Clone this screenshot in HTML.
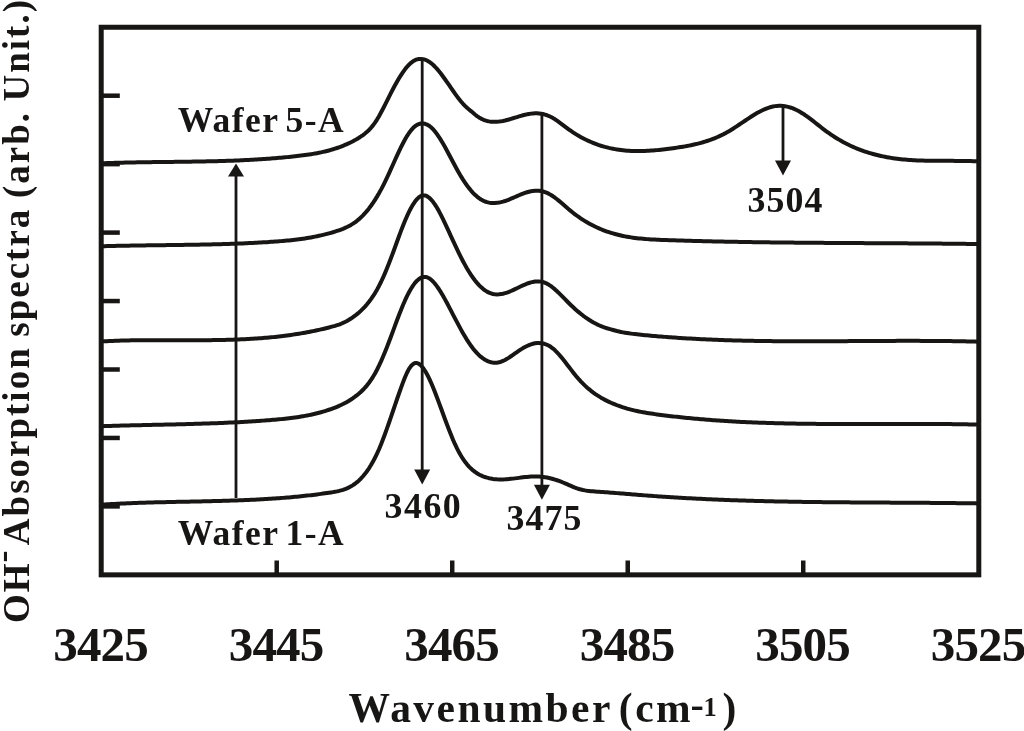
<!DOCTYPE html>
<html lang="en"><head><meta charset="utf-8"><title>OH absorption spectra</title>
<style>
html,body{margin:0;padding:0;background:#fff;}
body{width:1024px;height:731px;overflow:hidden;}
svg{display:block;}
text{font-family:"Liberation Serif",serif;font-weight:bold;fill:#181515;}
.c{fill:none;stroke:#181515;stroke-width:4.0;stroke-linejoin:round;stroke-linecap:butt;}
.t{stroke:#181515;stroke-width:4.5;fill:none;}
.l{stroke:#181515;stroke-width:2.8;fill:none;}
.h{fill:#181515;}
</style></head><body>
<svg width="1024" height="731" viewBox="0 0 1024 731">
<rect x="0" y="0" width="1024" height="731" fill="#ffffff"/>
<line class="t" x1="101" y1="95.70" x2="119.8" y2="95.70"/>
<line class="t" x1="101" y1="164.15" x2="119.8" y2="164.15"/>
<line class="t" x1="101" y1="232.60" x2="119.8" y2="232.60"/>
<line class="t" x1="101" y1="301.05" x2="119.8" y2="301.05"/>
<line class="t" x1="101" y1="369.50" x2="119.8" y2="369.50"/>
<line class="t" x1="101" y1="437.95" x2="119.8" y2="437.95"/>
<line class="t" x1="101" y1="506.40" x2="119.8" y2="506.40"/>
<line class="t" x1="276.71" y1="575" x2="276.71" y2="560.5"/>
<line class="t" x1="452.22" y1="575" x2="452.22" y2="560.5"/>
<line class="t" x1="627.73" y1="575" x2="627.73" y2="560.5"/>
<line class="t" x1="803.24" y1="575" x2="803.24" y2="560.5"/>
<path class="c" d="M101.0,504.74 L103.0,504.61 L105.0,504.48 L107.0,504.36 L109.0,504.24 L111.0,504.12 L113.0,504.01 L115.0,503.90 L117.0,503.79 L119.0,503.69 L121.0,503.60 L123.0,503.50 L125.0,503.41 L127.0,503.32 L129.0,503.24 L131.0,503.16 L133.0,503.08 L135.0,503.00 L137.0,502.93 L139.0,502.86 L141.0,502.79 L143.0,502.72 L145.0,502.66 L147.0,502.60 L149.0,502.54 L151.0,502.48 L153.0,502.43 L155.0,502.37 L157.0,502.32 L159.0,502.27 L161.0,502.22 L163.0,502.17 L165.0,502.13 L167.0,502.08 L169.0,502.04 L171.0,501.99 L173.0,501.95 L175.0,501.91 L177.0,501.87 L179.0,501.83 L181.0,501.79 L183.0,501.75 L185.0,501.71 L187.0,501.67 L189.0,501.63 L191.0,501.59 L193.0,501.55 L195.0,501.51 L197.0,501.47 L199.0,501.43 L201.0,501.39 L203.0,501.35 L205.0,501.30 L207.0,501.26 L209.0,501.21 L211.0,501.17 L213.0,501.12 L215.0,501.07 L217.0,501.02 L219.0,500.97 L221.0,500.92 L223.0,500.86 L225.0,500.80 L227.0,500.75 L229.0,500.68 L231.0,500.62 L233.0,500.56 L235.0,500.49 L237.0,500.42 L239.0,500.35 L241.0,500.27 L243.0,500.19 L245.0,500.11 L247.0,500.03 L249.0,499.94 L251.0,499.85 L253.0,499.75 L255.0,499.66 L257.0,499.56 L259.0,499.45 L261.0,499.35 L263.0,499.23 L265.0,499.12 L267.0,499.00 L269.0,498.87 L271.0,498.75 L273.0,498.61 L275.0,498.48 L277.0,498.34 L279.0,498.19 L281.0,498.04 L283.0,497.88 L285.0,497.72 L287.0,497.56 L289.0,497.39 L291.0,497.21 L293.0,497.03 L295.0,496.84 L297.0,496.65 L299.0,496.45 L301.0,496.25 L303.0,496.04 L305.0,495.82 L307.0,495.60 L309.0,495.37 L311.0,495.14 L313.0,494.90 L315.0,494.65 L317.0,494.40 L319.0,494.14 L321.0,493.87 L323.0,493.60 L325.0,493.32 L327.0,493.03 L329.0,492.73 L331.0,492.43 L333.0,492.11 L335.0,491.76 L337.0,491.38 L339.0,490.93 L341.0,490.42 L343.0,489.83 L345.0,489.13 L347.0,488.33 L349.0,487.40 L351.0,486.34 L353.0,485.12 L355.0,483.74 L357.0,482.17 L359.0,480.42 L361.0,478.46 L363.0,476.27 L365.0,473.85 L367.0,471.19 L369.0,468.26 L371.0,465.05 L373.0,461.56 L375.0,457.76 L377.0,453.65 L379.0,449.20 L381.0,444.42 L383.0,439.33 L385.0,433.98 L387.0,428.43 L389.0,422.72 L391.0,416.89 L393.0,411.01 L395.0,405.12 L397.0,399.26 L399.0,393.48 L401.0,387.84 L403.0,382.39 L405.0,377.27 L407.0,372.70 L409.0,368.92 L411.0,366.04 L413.0,364.09 L415.0,363.08 L417.0,363.03 L419.0,363.87 L421.0,365.51 L423.0,367.83 L425.0,370.76 L427.0,374.24 L429.0,378.19 L431.0,382.55 L433.0,387.27 L435.0,392.26 L437.0,397.47 L439.0,402.83 L441.0,408.28 L443.0,413.75 L445.0,419.19 L447.0,424.55 L449.0,429.78 L451.0,434.84 L453.0,439.66 L455.0,444.21 L457.0,448.44 L459.0,452.30 L461.0,455.80 L463.0,458.96 L465.0,461.80 L467.0,464.35 L469.0,466.61 L471.0,468.62 L473.0,470.38 L475.0,471.92 L477.0,473.27 L479.0,474.43 L481.0,475.43 L483.0,476.29 L485.0,477.02 L487.0,477.65 L489.0,478.17 L491.0,478.59 L493.0,478.92 L495.0,479.16 L497.0,479.33 L499.0,479.43 L501.0,479.46 L503.0,479.43 L505.0,479.35 L507.0,479.22 L509.0,479.05 L511.0,478.85 L513.0,478.62 L515.0,478.38 L517.0,478.12 L519.0,477.86 L521.0,477.60 L523.0,477.34 L525.0,477.11 L527.0,476.90 L529.0,476.72 L531.0,476.58 L533.0,476.48 L535.0,476.44 L537.0,476.45 L539.0,476.54 L541.0,476.69 L543.0,476.92 L545.0,477.21 L547.0,477.56 L549.0,477.98 L551.0,478.46 L553.0,479.00 L555.0,479.59 L557.0,480.24 L559.0,480.94 L561.0,481.69 L563.0,482.49 L565.0,483.33 L567.0,484.20 L569.0,485.08 L571.0,485.95 L573.0,486.79 L575.0,487.59 L577.0,488.32 L579.0,488.98 L581.0,489.54 L583.0,490.00 L585.0,490.38 L587.0,490.70 L589.0,490.95 L591.0,491.16 L593.0,491.34 L595.0,491.49 L597.0,491.63 L599.0,491.77 L601.0,491.91 L603.0,492.06 L605.0,492.21 L607.0,492.36 L609.0,492.51 L611.0,492.66 L613.0,492.82 L615.0,492.98 L617.0,493.13 L619.0,493.29 L621.0,493.45 L623.0,493.61 L625.0,493.78 L627.0,493.94 L629.0,494.10 L631.0,494.26 L633.0,494.42 L635.0,494.58 L637.0,494.74 L639.0,494.90 L641.0,495.06 L643.0,495.22 L645.0,495.37 L647.0,495.52 L649.0,495.68 L651.0,495.83 L653.0,495.97 L655.0,496.12 L657.0,496.26 L659.0,496.40 L661.0,496.54 L663.0,496.68 L665.0,496.81 L667.0,496.94 L669.0,497.07 L671.0,497.20 L673.0,497.33 L675.0,497.45 L677.0,497.57 L679.0,497.69 L681.0,497.81 L683.0,497.92 L685.0,498.04 L687.0,498.15 L689.0,498.26 L691.0,498.37 L693.0,498.47 L695.0,498.58 L697.0,498.68 L699.0,498.78 L701.0,498.87 L703.0,498.97 L705.0,499.07 L707.0,499.16 L709.0,499.25 L711.0,499.34 L713.0,499.43 L715.0,499.51 L717.0,499.59 L719.0,499.68 L721.0,499.76 L723.0,499.84 L725.0,499.91 L727.0,499.99 L729.0,500.06 L731.0,500.14 L733.0,500.21 L735.0,500.28 L737.0,500.35 L739.0,500.41 L741.0,500.48 L743.0,500.54 L745.0,500.60 L747.0,500.66 L749.0,500.72 L751.0,500.78 L753.0,500.84 L755.0,500.89 L757.0,500.95 L759.0,501.00 L761.0,501.05 L763.0,501.10 L765.0,501.15 L767.0,501.20 L769.0,501.25 L771.0,501.29 L773.0,501.34 L775.0,501.38 L777.0,501.42 L779.0,501.47 L781.0,501.51 L783.0,501.54 L785.0,501.58 L787.0,501.62 L789.0,501.66 L791.0,501.69 L793.0,501.72 L795.0,501.76 L797.0,501.79 L799.0,501.82 L801.0,501.85 L803.0,501.88 L805.0,501.91 L807.0,501.94 L809.0,501.97 L811.0,501.99 L813.0,502.02 L815.0,502.04 L817.0,502.07 L819.0,502.09 L821.0,502.11 L823.0,502.14 L825.0,502.16 L827.0,502.18 L829.0,502.20 L831.0,502.22 L833.0,502.24 L835.0,502.26 L837.0,502.27 L839.0,502.29 L841.0,502.31 L843.0,502.32 L845.0,502.34 L847.0,502.36 L849.0,502.37 L851.0,502.39 L853.0,502.40 L855.0,502.42 L857.0,502.43 L859.0,502.44 L861.0,502.46 L863.0,502.47 L865.0,502.48 L867.0,502.49 L869.0,502.51 L871.0,502.52 L873.0,502.53 L875.0,502.54 L877.0,502.55 L879.0,502.57 L881.0,502.58 L883.0,502.59 L885.0,502.60 L887.0,502.61 L889.0,502.62 L891.0,502.63 L893.0,502.64 L895.0,502.66 L897.0,502.67 L899.0,502.68 L901.0,502.69 L903.0,502.70 L905.0,502.71 L907.0,502.73 L909.0,502.74 L911.0,502.75 L913.0,502.76 L915.0,502.77 L917.0,502.79 L919.0,502.80 L921.0,502.81 L923.0,502.83 L925.0,502.84 L927.0,502.86 L929.0,502.87 L931.0,502.89 L933.0,502.90 L935.0,502.92 L937.0,502.93 L939.0,502.95 L941.0,502.97 L943.0,502.99 L945.0,503.01 L947.0,503.02 L949.0,503.04 L951.0,503.06 L953.0,503.09 L955.0,503.11 L957.0,503.13 L959.0,503.15 L961.0,503.17 L963.0,503.20 L965.0,503.22 L967.0,503.25 L969.0,503.27 L971.0,503.30 L973.0,503.33 L975.0,503.36 L977.0,503.39"/>
<path class="c" d="M101.0,426.24 L103.0,426.17 L105.0,426.10 L107.0,426.04 L109.0,425.97 L111.0,425.91 L113.0,425.85 L115.0,425.79 L117.0,425.73 L119.0,425.68 L121.0,425.62 L123.0,425.57 L125.0,425.52 L127.0,425.47 L129.0,425.42 L131.0,425.37 L133.0,425.32 L135.0,425.27 L137.0,425.22 L139.0,425.18 L141.0,425.13 L143.0,425.09 L145.0,425.04 L147.0,425.00 L149.0,424.95 L151.0,424.91 L153.0,424.87 L155.0,424.82 L157.0,424.78 L159.0,424.74 L161.0,424.69 L163.0,424.65 L165.0,424.60 L167.0,424.56 L169.0,424.51 L171.0,424.47 L173.0,424.42 L175.0,424.38 L177.0,424.33 L179.0,424.28 L181.0,424.23 L183.0,424.18 L185.0,424.13 L187.0,424.08 L189.0,424.03 L191.0,423.97 L193.0,423.92 L195.0,423.86 L197.0,423.80 L199.0,423.74 L201.0,423.68 L203.0,423.62 L205.0,423.55 L207.0,423.49 L209.0,423.42 L211.0,423.35 L213.0,423.28 L215.0,423.20 L217.0,423.13 L219.0,423.05 L221.0,422.97 L223.0,422.89 L225.0,422.80 L227.0,422.71 L229.0,422.62 L231.0,422.53 L233.0,422.43 L235.0,422.33 L237.0,422.23 L239.0,422.13 L241.0,422.02 L243.0,421.91 L245.0,421.80 L247.0,421.68 L249.0,421.56 L251.0,421.44 L253.0,421.31 L255.0,421.18 L257.0,421.05 L259.0,420.91 L261.0,420.77 L263.0,420.62 L265.0,420.47 L267.0,420.32 L269.0,420.17 L271.0,420.00 L273.0,419.84 L275.0,419.67 L277.0,419.49 L279.0,419.31 L281.0,419.12 L283.0,418.92 L285.0,418.71 L287.0,418.49 L289.0,418.26 L291.0,418.02 L293.0,417.76 L295.0,417.49 L297.0,417.20 L299.0,416.90 L301.0,416.58 L303.0,416.24 L305.0,415.88 L307.0,415.50 L309.0,415.11 L311.0,414.69 L313.0,414.24 L315.0,413.78 L317.0,413.29 L319.0,412.77 L321.0,412.23 L323.0,411.66 L325.0,411.06 L327.0,410.43 L329.0,409.77 L331.0,409.08 L333.0,408.36 L335.0,407.60 L337.0,406.79 L339.0,405.94 L341.0,405.03 L343.0,404.06 L345.0,403.03 L347.0,401.92 L349.0,400.74 L351.0,399.49 L353.0,398.15 L355.0,396.71 L357.0,395.19 L359.0,393.54 L361.0,391.75 L363.0,389.81 L365.0,387.67 L367.0,385.33 L369.0,382.76 L371.0,379.94 L373.0,376.85 L375.0,373.46 L377.0,369.75 L379.0,365.71 L381.0,361.39 L383.0,356.80 L385.0,351.99 L387.0,346.97 L389.0,341.80 L391.0,336.49 L393.0,331.10 L395.0,325.68 L397.0,320.31 L399.0,315.03 L401.0,309.92 L403.0,305.03 L405.0,300.44 L407.0,296.17 L409.0,292.26 L411.0,288.73 L413.0,285.61 L415.0,282.92 L417.0,280.69 L419.0,278.95 L421.0,277.71 L423.0,277.01 L425.0,276.88 L427.0,277.30 L429.0,278.24 L431.0,279.66 L433.0,281.52 L435.0,283.76 L437.0,286.36 L439.0,289.26 L441.0,292.43 L443.0,295.81 L445.0,299.37 L447.0,303.07 L449.0,306.86 L451.0,310.70 L453.0,314.55 L455.0,318.39 L457.0,322.19 L459.0,325.93 L461.0,329.59 L463.0,333.15 L465.0,336.57 L467.0,339.83 L469.0,342.92 L471.0,345.81 L473.0,348.47 L475.0,350.92 L477.0,353.14 L479.0,355.14 L481.0,356.90 L483.0,358.44 L485.0,359.75 L487.0,360.83 L489.0,361.67 L491.0,362.28 L493.0,362.65 L495.0,362.78 L497.0,362.67 L499.0,362.32 L501.0,361.73 L503.0,360.93 L505.0,359.96 L507.0,358.84 L509.0,357.60 L511.0,356.27 L513.0,354.89 L515.0,353.47 L517.0,352.06 L519.0,350.67 L521.0,349.34 L523.0,348.10 L525.0,346.97 L527.0,345.96 L529.0,345.08 L531.0,344.34 L533.0,343.75 L535.0,343.33 L537.0,343.08 L539.0,343.01 L541.0,343.13 L543.0,343.47 L545.0,344.01 L547.0,344.79 L549.0,345.80 L551.0,347.06 L553.0,348.57 L555.0,350.34 L557.0,352.32 L559.0,354.50 L561.0,356.82 L563.0,359.27 L565.0,361.81 L567.0,364.41 L569.0,367.03 L571.0,369.65 L573.0,372.23 L575.0,374.75 L577.0,377.16 L579.0,379.45 L581.0,381.62 L583.0,383.67 L585.0,385.61 L587.0,387.44 L589.0,389.17 L591.0,390.80 L593.0,392.34 L595.0,393.78 L597.0,395.15 L599.0,396.43 L601.0,397.65 L603.0,398.79 L605.0,399.87 L607.0,400.89 L609.0,401.85 L611.0,402.77 L613.0,403.63 L615.0,404.46 L617.0,405.24 L619.0,405.98 L621.0,406.68 L623.0,407.34 L625.0,407.96 L627.0,408.55 L629.0,409.11 L631.0,409.63 L633.0,410.13 L635.0,410.60 L637.0,411.04 L639.0,411.46 L641.0,411.85 L643.0,412.23 L645.0,412.58 L647.0,412.92 L649.0,413.24 L651.0,413.55 L653.0,413.84 L655.0,414.13 L657.0,414.40 L659.0,414.67 L661.0,414.93 L663.0,415.19 L665.0,415.44 L667.0,415.69 L669.0,415.93 L671.0,416.16 L673.0,416.40 L675.0,416.63 L677.0,416.85 L679.0,417.07 L681.0,417.28 L683.0,417.49 L685.0,417.70 L687.0,417.90 L689.0,418.10 L691.0,418.29 L693.0,418.48 L695.0,418.67 L697.0,418.85 L699.0,419.02 L701.0,419.20 L703.0,419.36 L705.0,419.53 L707.0,419.69 L709.0,419.85 L711.0,420.00 L713.0,420.15 L715.0,420.30 L717.0,420.44 L719.0,420.58 L721.0,420.71 L723.0,420.84 L725.0,420.97 L727.0,421.10 L729.0,421.22 L731.0,421.33 L733.0,421.45 L735.0,421.56 L737.0,421.67 L739.0,421.77 L741.0,421.88 L743.0,421.97 L745.0,422.07 L747.0,422.16 L749.0,422.25 L751.0,422.34 L753.0,422.42 L755.0,422.50 L757.0,422.58 L759.0,422.66 L761.0,422.73 L763.0,422.80 L765.0,422.87 L767.0,422.94 L769.0,423.00 L771.0,423.06 L773.0,423.12 L775.0,423.17 L777.0,423.23 L779.0,423.28 L781.0,423.33 L783.0,423.37 L785.0,423.42 L787.0,423.46 L789.0,423.50 L791.0,423.54 L793.0,423.58 L795.0,423.61 L797.0,423.64 L799.0,423.67 L801.0,423.70 L803.0,423.73 L805.0,423.76 L807.0,423.78 L809.0,423.80 L811.0,423.82 L813.0,423.84 L815.0,423.86 L817.0,423.88 L819.0,423.89 L821.0,423.91 L823.0,423.92 L825.0,423.93 L827.0,423.94 L829.0,423.95 L831.0,423.96 L833.0,423.97 L835.0,423.97 L837.0,423.98 L839.0,423.98 L841.0,423.98 L843.0,423.99 L845.0,423.99 L847.0,423.99 L849.0,423.99 L851.0,423.99 L853.0,423.99 L855.0,423.98 L857.0,423.98 L859.0,423.98 L861.0,423.98 L863.0,423.97 L865.0,423.97 L867.0,423.96 L869.0,423.96 L871.0,423.95 L873.0,423.95 L875.0,423.94 L877.0,423.94 L879.0,423.93 L881.0,423.93 L883.0,423.92 L885.0,423.92 L887.0,423.91 L889.0,423.91 L891.0,423.90 L893.0,423.90 L895.0,423.90 L897.0,423.89 L899.0,423.89 L901.0,423.89 L903.0,423.89 L905.0,423.88 L907.0,423.88 L909.0,423.88 L911.0,423.88 L913.0,423.89 L915.0,423.89 L917.0,423.89 L919.0,423.89 L921.0,423.90 L923.0,423.90 L925.0,423.91 L927.0,423.92 L929.0,423.93 L931.0,423.94 L933.0,423.95 L935.0,423.96 L937.0,423.97 L939.0,423.99 L941.0,424.00 L943.0,424.02 L945.0,424.04 L947.0,424.06 L949.0,424.08 L951.0,424.11 L953.0,424.13 L955.0,424.16 L957.0,424.19 L959.0,424.22 L961.0,424.25 L963.0,424.28 L965.0,424.32 L967.0,424.36 L969.0,424.40 L971.0,424.44 L973.0,424.48 L975.0,424.53 L977.0,424.58"/>
<path class="c" d="M101.0,341.48 L103.0,341.37 L105.0,341.26 L107.0,341.16 L109.0,341.06 L111.0,340.97 L113.0,340.89 L115.0,340.81 L117.0,340.74 L119.0,340.67 L121.0,340.60 L123.0,340.55 L125.0,340.49 L127.0,340.44 L129.0,340.40 L131.0,340.36 L133.0,340.32 L135.0,340.29 L137.0,340.26 L139.0,340.24 L141.0,340.21 L143.0,340.19 L145.0,340.18 L147.0,340.16 L149.0,340.15 L151.0,340.15 L153.0,340.14 L155.0,340.13 L157.0,340.13 L159.0,340.13 L161.0,340.13 L163.0,340.14 L165.0,340.14 L167.0,340.14 L169.0,340.15 L171.0,340.15 L173.0,340.16 L175.0,340.17 L177.0,340.17 L179.0,340.18 L181.0,340.19 L183.0,340.19 L185.0,340.20 L187.0,340.20 L189.0,340.20 L191.0,340.21 L193.0,340.21 L195.0,340.21 L197.0,340.20 L199.0,340.20 L201.0,340.19 L203.0,340.19 L205.0,340.18 L207.0,340.16 L209.0,340.15 L211.0,340.13 L213.0,340.10 L215.0,340.08 L217.0,340.05 L219.0,340.02 L221.0,339.98 L223.0,339.94 L225.0,339.90 L227.0,339.85 L229.0,339.80 L231.0,339.74 L233.0,339.67 L235.0,339.61 L237.0,339.53 L239.0,339.45 L241.0,339.37 L243.0,339.28 L245.0,339.18 L247.0,339.08 L249.0,338.97 L251.0,338.86 L253.0,338.74 L255.0,338.61 L257.0,338.48 L259.0,338.33 L261.0,338.18 L263.0,338.03 L265.0,337.86 L267.0,337.69 L269.0,337.51 L271.0,337.32 L273.0,337.12 L275.0,336.91 L277.0,336.70 L279.0,336.48 L281.0,336.24 L283.0,336.00 L285.0,335.75 L287.0,335.49 L289.0,335.22 L291.0,334.94 L293.0,334.64 L295.0,334.34 L297.0,334.03 L299.0,333.71 L301.0,333.37 L303.0,333.03 L305.0,332.67 L307.0,332.30 L309.0,331.92 L311.0,331.53 L313.0,331.13 L315.0,330.71 L317.0,330.29 L319.0,329.85 L321.0,329.39 L323.0,328.93 L325.0,328.45 L327.0,327.96 L329.0,327.45 L331.0,326.93 L333.0,326.39 L335.0,325.82 L337.0,325.20 L339.0,324.52 L341.0,323.77 L343.0,322.93 L345.0,322.00 L347.0,320.95 L349.0,319.80 L351.0,318.54 L353.0,317.18 L355.0,315.71 L357.0,314.14 L359.0,312.45 L361.0,310.63 L363.0,308.67 L365.0,306.56 L367.0,304.27 L369.0,301.80 L371.0,299.12 L373.0,296.21 L375.0,293.06 L377.0,289.65 L379.0,285.97 L381.0,281.99 L383.0,277.71 L385.0,273.16 L387.0,268.35 L389.0,263.32 L391.0,258.08 L393.0,252.69 L395.0,247.21 L397.0,241.71 L399.0,236.25 L401.0,230.90 L403.0,225.72 L405.0,220.80 L407.0,216.17 L409.0,211.89 L411.0,208.00 L413.0,204.55 L415.0,201.58 L417.0,199.13 L419.0,197.26 L421.0,196.00 L423.0,195.40 L425.0,195.49 L427.0,196.23 L429.0,197.57 L431.0,199.45 L433.0,201.81 L435.0,204.61 L437.0,207.80 L439.0,211.31 L441.0,215.10 L443.0,219.11 L445.0,223.29 L447.0,227.58 L449.0,231.94 L451.0,236.31 L453.0,240.66 L455.0,244.95 L457.0,249.18 L459.0,253.31 L461.0,257.33 L463.0,261.21 L465.0,264.92 L467.0,268.45 L469.0,271.77 L471.0,274.88 L473.0,277.76 L475.0,280.43 L477.0,282.87 L479.0,285.08 L481.0,287.06 L483.0,288.81 L485.0,290.33 L487.0,291.60 L489.0,292.63 L491.0,293.42 L493.0,293.97 L495.0,294.29 L497.0,294.41 L499.0,294.34 L501.0,294.10 L503.0,293.71 L505.0,293.18 L507.0,292.54 L509.0,291.80 L511.0,290.98 L513.0,290.09 L515.0,289.16 L517.0,288.21 L519.0,287.25 L521.0,286.30 L523.0,285.38 L525.0,284.52 L527.0,283.72 L529.0,283.00 L531.0,282.40 L533.0,281.92 L535.0,281.58 L537.0,281.41 L539.0,281.42 L541.0,281.63 L543.0,282.06 L545.0,282.73 L547.0,283.65 L549.0,284.80 L551.0,286.16 L553.0,287.71 L555.0,289.40 L557.0,291.22 L559.0,293.14 L561.0,295.13 L563.0,297.16 L565.0,299.21 L567.0,301.25 L569.0,303.26 L571.0,305.20 L573.0,307.08 L575.0,308.90 L577.0,310.66 L579.0,312.35 L581.0,313.97 L583.0,315.53 L585.0,317.01 L587.0,318.42 L589.0,319.76 L591.0,321.02 L593.0,322.20 L595.0,323.30 L597.0,324.33 L599.0,325.27 L601.0,326.13 L603.0,326.90 L605.0,327.60 L607.0,328.25 L609.0,328.85 L611.0,329.44 L613.0,330.00 L615.0,330.54 L617.0,331.05 L619.0,331.51 L621.0,331.94 L623.0,332.34 L625.0,332.70 L627.0,333.03 L629.0,333.33 L631.0,333.61 L633.0,333.87 L635.0,334.11 L637.0,334.34 L639.0,334.55 L641.0,334.75 L643.0,334.95 L645.0,335.15 L647.0,335.34 L649.0,335.52 L651.0,335.71 L653.0,335.89 L655.0,336.06 L657.0,336.23 L659.0,336.40 L661.0,336.57 L663.0,336.73 L665.0,336.88 L667.0,337.04 L669.0,337.19 L671.0,337.33 L673.0,337.48 L675.0,337.62 L677.0,337.75 L679.0,337.89 L681.0,338.02 L683.0,338.15 L685.0,338.27 L687.0,338.39 L689.0,338.51 L691.0,338.62 L693.0,338.73 L695.0,338.84 L697.0,338.95 L699.0,339.05 L701.0,339.15 L703.0,339.25 L705.0,339.34 L707.0,339.43 L709.0,339.52 L711.0,339.61 L713.0,339.69 L715.0,339.77 L717.0,339.85 L719.0,339.93 L721.0,340.00 L723.0,340.07 L725.0,340.14 L727.0,340.20 L729.0,340.27 L731.0,340.33 L733.0,340.39 L735.0,340.44 L737.0,340.50 L739.0,340.55 L741.0,340.60 L743.0,340.65 L745.0,340.69 L747.0,340.74 L749.0,340.78 L751.0,340.82 L753.0,340.86 L755.0,340.89 L757.0,340.93 L759.0,340.96 L761.0,340.99 L763.0,341.02 L765.0,341.05 L767.0,341.07 L769.0,341.10 L771.0,341.12 L773.0,341.14 L775.0,341.16 L777.0,341.18 L779.0,341.19 L781.0,341.21 L783.0,341.22 L785.0,341.23 L787.0,341.24 L789.0,341.25 L791.0,341.26 L793.0,341.27 L795.0,341.27 L797.0,341.28 L799.0,341.28 L801.0,341.28 L803.0,341.28 L805.0,341.28 L807.0,341.28 L809.0,341.28 L811.0,341.28 L813.0,341.28 L815.0,341.27 L817.0,341.27 L819.0,341.26 L821.0,341.26 L823.0,341.25 L825.0,341.24 L827.0,341.23 L829.0,341.23 L831.0,341.22 L833.0,341.21 L835.0,341.20 L837.0,341.19 L839.0,341.18 L841.0,341.17 L843.0,341.15 L845.0,341.14 L847.0,341.13 L849.0,341.12 L851.0,341.11 L853.0,341.10 L855.0,341.08 L857.0,341.07 L859.0,341.06 L861.0,341.05 L863.0,341.03 L865.0,341.02 L867.0,341.01 L869.0,341.00 L871.0,340.99 L873.0,340.98 L875.0,340.96 L877.0,340.95 L879.0,340.94 L881.0,340.93 L883.0,340.92 L885.0,340.91 L887.0,340.91 L889.0,340.90 L891.0,340.89 L893.0,340.88 L895.0,340.88 L897.0,340.87 L899.0,340.87 L901.0,340.86 L903.0,340.86 L905.0,340.86 L907.0,340.86 L909.0,340.86 L911.0,340.86 L913.0,340.86 L915.0,340.86 L917.0,340.87 L919.0,340.87 L921.0,340.88 L923.0,340.88 L925.0,340.89 L927.0,340.90 L929.0,340.91 L931.0,340.92 L933.0,340.94 L935.0,340.95 L937.0,340.97 L939.0,340.98 L941.0,341.00 L943.0,341.02 L945.0,341.05 L947.0,341.07 L949.0,341.10 L951.0,341.12 L953.0,341.15 L955.0,341.18 L957.0,341.22 L959.0,341.25 L961.0,341.29 L963.0,341.32 L965.0,341.36 L967.0,341.41 L969.0,341.45 L971.0,341.49 L973.0,341.54 L975.0,341.59 L977.0,341.65"/>
<path class="c" d="M101.0,246.29 L103.0,246.23 L105.0,246.17 L107.0,246.11 L109.0,246.06 L111.0,246.01 L113.0,245.96 L115.0,245.91 L117.0,245.87 L119.0,245.82 L121.0,245.78 L123.0,245.74 L125.0,245.70 L127.0,245.67 L129.0,245.63 L131.0,245.60 L133.0,245.56 L135.0,245.53 L137.0,245.50 L139.0,245.47 L141.0,245.44 L143.0,245.41 L145.0,245.38 L147.0,245.36 L149.0,245.33 L151.0,245.30 L153.0,245.28 L155.0,245.25 L157.0,245.23 L159.0,245.20 L161.0,245.18 L163.0,245.16 L165.0,245.13 L167.0,245.11 L169.0,245.08 L171.0,245.06 L173.0,245.03 L175.0,245.01 L177.0,244.98 L179.0,244.96 L181.0,244.93 L183.0,244.90 L185.0,244.87 L187.0,244.84 L189.0,244.81 L191.0,244.78 L193.0,244.75 L195.0,244.72 L197.0,244.68 L199.0,244.65 L201.0,244.61 L203.0,244.57 L205.0,244.53 L207.0,244.49 L209.0,244.45 L211.0,244.40 L213.0,244.36 L215.0,244.31 L217.0,244.26 L219.0,244.20 L221.0,244.15 L223.0,244.09 L225.0,244.03 L227.0,243.97 L229.0,243.91 L231.0,243.84 L233.0,243.77 L235.0,243.70 L237.0,243.62 L239.0,243.55 L241.0,243.47 L243.0,243.38 L245.0,243.30 L247.0,243.21 L249.0,243.12 L251.0,243.02 L253.0,242.92 L255.0,242.82 L257.0,242.71 L259.0,242.60 L261.0,242.49 L263.0,242.37 L265.0,242.25 L267.0,242.13 L269.0,242.00 L271.0,241.87 L273.0,241.73 L275.0,241.59 L277.0,241.44 L279.0,241.29 L281.0,241.13 L283.0,240.96 L285.0,240.79 L287.0,240.60 L289.0,240.41 L291.0,240.20 L293.0,239.98 L295.0,239.76 L297.0,239.52 L299.0,239.26 L301.0,238.99 L303.0,238.71 L305.0,238.41 L307.0,238.10 L309.0,237.77 L311.0,237.42 L313.0,237.05 L315.0,236.66 L317.0,236.26 L319.0,235.83 L321.0,235.38 L323.0,234.91 L325.0,234.42 L327.0,233.91 L329.0,233.37 L331.0,232.80 L333.0,232.22 L335.0,231.60 L337.0,230.96 L339.0,230.28 L341.0,229.56 L343.0,228.79 L345.0,227.94 L347.0,227.02 L349.0,226.00 L351.0,224.89 L353.0,223.65 L355.0,222.30 L357.0,220.80 L359.0,219.15 L361.0,217.35 L363.0,215.37 L365.0,213.23 L367.0,210.91 L369.0,208.41 L371.0,205.74 L373.0,202.89 L375.0,199.85 L377.0,196.63 L379.0,193.22 L381.0,189.62 L383.0,185.82 L385.0,181.83 L387.0,177.66 L389.0,173.34 L391.0,168.94 L393.0,164.49 L395.0,160.04 L397.0,155.64 L399.0,151.34 L401.0,147.19 L403.0,143.24 L405.0,139.53 L407.0,136.11 L409.0,133.03 L411.0,130.33 L413.0,128.07 L415.0,126.27 L417.0,124.91 L419.0,123.99 L421.0,123.50 L423.0,123.43 L425.0,123.78 L427.0,124.54 L429.0,125.70 L431.0,127.25 L433.0,129.18 L435.0,131.48 L437.0,134.10 L439.0,137.01 L441.0,140.17 L443.0,143.53 L445.0,147.06 L447.0,150.71 L449.0,154.45 L451.0,158.23 L453.0,162.02 L455.0,165.77 L457.0,169.44 L459.0,172.99 L461.0,176.39 L463.0,179.61 L465.0,182.64 L467.0,185.48 L469.0,188.12 L471.0,190.56 L473.0,192.79 L475.0,194.81 L477.0,196.60 L479.0,198.17 L481.0,199.50 L483.0,200.60 L485.0,201.49 L487.0,202.16 L489.0,202.64 L491.0,202.94 L493.0,203.06 L495.0,203.03 L497.0,202.86 L499.0,202.56 L501.0,202.13 L503.0,201.61 L505.0,200.99 L507.0,200.29 L509.0,199.52 L511.0,198.71 L513.0,197.86 L515.0,196.99 L517.0,196.12 L519.0,195.27 L521.0,194.43 L523.0,193.65 L525.0,192.92 L527.0,192.26 L529.0,191.70 L531.0,191.23 L533.0,190.89 L535.0,190.69 L537.0,190.63 L539.0,190.74 L541.0,191.03 L543.0,191.49 L545.0,192.12 L547.0,192.92 L549.0,193.88 L551.0,195.01 L553.0,196.29 L555.0,197.71 L557.0,199.26 L559.0,200.89 L561.0,202.60 L563.0,204.34 L565.0,206.09 L567.0,207.83 L569.0,209.53 L571.0,211.17 L573.0,212.76 L575.0,214.29 L577.0,215.76 L579.0,217.17 L581.0,218.53 L583.0,219.83 L585.0,221.08 L587.0,222.28 L589.0,223.42 L591.0,224.51 L593.0,225.55 L595.0,226.55 L597.0,227.49 L599.0,228.39 L601.0,229.24 L603.0,230.04 L605.0,230.81 L607.0,231.53 L609.0,232.21 L611.0,232.85 L613.0,233.45 L615.0,234.01 L617.0,234.54 L619.0,235.04 L621.0,235.50 L623.0,235.93 L625.0,236.34 L627.0,236.71 L629.0,237.05 L631.0,237.37 L633.0,237.66 L635.0,237.93 L637.0,238.18 L639.0,238.41 L641.0,238.61 L643.0,238.80 L645.0,238.97 L647.0,239.13 L649.0,239.27 L651.0,239.40 L653.0,239.51 L655.0,239.62 L657.0,239.71 L659.0,239.80 L661.0,239.88 L663.0,239.95 L665.0,240.03 L667.0,240.09 L669.0,240.16 L671.0,240.23 L673.0,240.29 L675.0,240.36 L677.0,240.42 L679.0,240.48 L681.0,240.54 L683.0,240.60 L685.0,240.66 L687.0,240.72 L689.0,240.78 L691.0,240.83 L693.0,240.89 L695.0,240.94 L697.0,240.99 L699.0,241.04 L701.0,241.10 L703.0,241.15 L705.0,241.19 L707.0,241.24 L709.0,241.29 L711.0,241.34 L713.0,241.38 L715.0,241.43 L717.0,241.47 L719.0,241.51 L721.0,241.56 L723.0,241.60 L725.0,241.64 L727.0,241.68 L729.0,241.72 L731.0,241.76 L733.0,241.79 L735.0,241.83 L737.0,241.87 L739.0,241.90 L741.0,241.94 L743.0,241.97 L745.0,242.00 L747.0,242.04 L749.0,242.07 L751.0,242.10 L753.0,242.13 L755.0,242.16 L757.0,242.19 L759.0,242.22 L761.0,242.25 L763.0,242.27 L765.0,242.30 L767.0,242.33 L769.0,242.35 L771.0,242.38 L773.0,242.40 L775.0,242.42 L777.0,242.45 L779.0,242.47 L781.0,242.49 L783.0,242.52 L785.0,242.54 L787.0,242.56 L789.0,242.58 L791.0,242.60 L793.0,242.62 L795.0,242.64 L797.0,242.66 L799.0,242.68 L801.0,242.69 L803.0,242.71 L805.0,242.73 L807.0,242.75 L809.0,242.76 L811.0,242.78 L813.0,242.79 L815.0,242.81 L817.0,242.83 L819.0,242.84 L821.0,242.86 L823.0,242.87 L825.0,242.88 L827.0,242.90 L829.0,242.91 L831.0,242.93 L833.0,242.94 L835.0,242.95 L837.0,242.96 L839.0,242.98 L841.0,242.99 L843.0,243.00 L845.0,243.01 L847.0,243.03 L849.0,243.04 L851.0,243.05 L853.0,243.06 L855.0,243.07 L857.0,243.08 L859.0,243.10 L861.0,243.11 L863.0,243.12 L865.0,243.13 L867.0,243.14 L869.0,243.15 L871.0,243.16 L873.0,243.17 L875.0,243.18 L877.0,243.20 L879.0,243.21 L881.0,243.22 L883.0,243.23 L885.0,243.24 L887.0,243.25 L889.0,243.26 L891.0,243.27 L893.0,243.29 L895.0,243.30 L897.0,243.31 L899.0,243.32 L901.0,243.33 L903.0,243.35 L905.0,243.36 L907.0,243.37 L909.0,243.38 L911.0,243.40 L913.0,243.41 L915.0,243.42 L917.0,243.44 L919.0,243.45 L921.0,243.47 L923.0,243.48 L925.0,243.49 L927.0,243.51 L929.0,243.52 L931.0,243.54 L933.0,243.56 L935.0,243.57 L937.0,243.59 L939.0,243.61 L941.0,243.62 L943.0,243.64 L945.0,243.66 L947.0,243.68 L949.0,243.70 L951.0,243.72 L953.0,243.74 L955.0,243.76 L957.0,243.78 L959.0,243.80 L961.0,243.82 L963.0,243.84 L965.0,243.86 L967.0,243.89 L969.0,243.91 L971.0,243.93 L973.0,243.96 L975.0,243.98 L977.0,244.01"/>
<path class="c" d="M101.0,163.34 L103.0,163.26 L105.0,163.18 L107.0,163.11 L109.0,163.05 L111.0,162.98 L113.0,162.92 L115.0,162.86 L117.0,162.80 L119.0,162.75 L121.0,162.70 L123.0,162.65 L125.0,162.60 L127.0,162.55 L129.0,162.51 L131.0,162.47 L133.0,162.43 L135.0,162.39 L137.0,162.36 L139.0,162.32 L141.0,162.29 L143.0,162.26 L145.0,162.23 L147.0,162.20 L149.0,162.17 L151.0,162.14 L153.0,162.12 L155.0,162.09 L157.0,162.07 L159.0,162.04 L161.0,162.02 L163.0,162.00 L165.0,161.97 L167.0,161.95 L169.0,161.93 L171.0,161.90 L173.0,161.88 L175.0,161.86 L177.0,161.83 L179.0,161.81 L181.0,161.79 L183.0,161.76 L185.0,161.73 L187.0,161.71 L189.0,161.68 L191.0,161.65 L193.0,161.62 L195.0,161.59 L197.0,161.56 L199.0,161.52 L201.0,161.49 L203.0,161.45 L205.0,161.41 L207.0,161.37 L209.0,161.33 L211.0,161.28 L213.0,161.24 L215.0,161.19 L217.0,161.14 L219.0,161.08 L221.0,161.03 L223.0,160.97 L225.0,160.91 L227.0,160.84 L229.0,160.78 L231.0,160.71 L233.0,160.63 L235.0,160.56 L237.0,160.48 L239.0,160.39 L241.0,160.31 L243.0,160.22 L245.0,160.12 L247.0,160.03 L249.0,159.92 L251.0,159.82 L253.0,159.71 L255.0,159.59 L257.0,159.48 L259.0,159.35 L261.0,159.23 L263.0,159.09 L265.0,158.96 L267.0,158.82 L269.0,158.67 L271.0,158.52 L273.0,158.36 L275.0,158.20 L277.0,158.04 L279.0,157.86 L281.0,157.69 L283.0,157.50 L285.0,157.31 L287.0,157.12 L289.0,156.92 L291.0,156.71 L293.0,156.50 L295.0,156.28 L297.0,156.06 L299.0,155.82 L301.0,155.58 L303.0,155.33 L305.0,155.07 L307.0,154.79 L309.0,154.50 L311.0,154.19 L313.0,153.87 L315.0,153.53 L317.0,153.16 L319.0,152.77 L321.0,152.36 L323.0,151.92 L325.0,151.46 L327.0,150.96 L329.0,150.44 L331.0,149.88 L333.0,149.29 L335.0,148.67 L337.0,148.01 L339.0,147.31 L341.0,146.57 L343.0,145.79 L345.0,144.97 L347.0,144.10 L349.0,143.19 L351.0,142.22 L353.0,141.20 L355.0,140.11 L357.0,138.96 L359.0,137.74 L361.0,136.44 L363.0,135.05 L365.0,133.52 L367.0,131.83 L369.0,129.93 L371.0,127.79 L373.0,125.36 L375.0,122.62 L377.0,119.54 L379.0,116.16 L381.0,112.54 L383.0,108.74 L385.0,104.81 L387.0,100.82 L389.0,96.83 L391.0,92.88 L393.0,89.03 L395.0,85.30 L397.0,81.71 L399.0,78.29 L401.0,75.07 L403.0,72.07 L405.0,69.32 L407.0,66.84 L409.0,64.67 L411.0,62.82 L413.0,61.32 L415.0,60.19 L417.0,59.41 L419.0,58.99 L421.0,58.89 L423.0,59.13 L425.0,59.67 L427.0,60.52 L429.0,61.67 L431.0,63.09 L433.0,64.79 L435.0,66.74 L437.0,68.91 L439.0,71.28 L441.0,73.81 L443.0,76.48 L445.0,79.25 L447.0,82.09 L449.0,84.97 L451.0,87.87 L453.0,90.75 L455.0,93.57 L457.0,96.32 L459.0,98.96 L461.0,101.46 L463.0,103.78 L465.0,105.91 L467.0,107.80 L469.0,109.46 L471.0,111.09 L473.0,112.80 L475.0,114.49 L477.0,116.06 L479.0,117.42 L481.0,118.58 L483.0,119.55 L485.0,120.33 L487.0,120.93 L489.0,121.38 L491.0,121.67 L493.0,121.83 L495.0,121.86 L497.0,121.77 L499.0,121.58 L501.0,121.30 L503.0,120.93 L505.0,120.50 L507.0,120.00 L509.0,119.46 L511.0,118.88 L513.0,118.28 L515.0,117.66 L517.0,117.04 L519.0,116.43 L521.0,115.85 L523.0,115.29 L525.0,114.78 L527.0,114.33 L529.0,113.94 L531.0,113.63 L533.0,113.42 L535.0,113.30 L537.0,113.30 L539.0,113.42 L541.0,113.67 L543.0,114.06 L545.0,114.58 L547.0,115.25 L549.0,116.05 L551.0,117.00 L553.0,118.09 L555.0,119.31 L557.0,120.64 L559.0,122.06 L561.0,123.53 L563.0,125.05 L565.0,126.57 L567.0,128.07 L569.0,129.54 L571.0,130.95 L573.0,132.30 L575.0,133.59 L577.0,134.83 L579.0,136.02 L581.0,137.15 L583.0,138.23 L585.0,139.26 L587.0,140.23 L589.0,141.16 L591.0,142.04 L593.0,142.87 L595.0,143.65 L597.0,144.39 L599.0,145.09 L601.0,145.74 L603.0,146.34 L605.0,146.91 L607.0,147.43 L609.0,147.92 L611.0,148.36 L613.0,148.77 L615.0,149.14 L617.0,149.48 L619.0,149.78 L621.0,150.04 L623.0,150.28 L625.0,150.48 L627.0,150.65 L629.0,150.79 L631.0,150.90 L633.0,150.98 L635.0,151.03 L637.0,151.06 L639.0,151.07 L641.0,151.05 L643.0,151.00 L645.0,150.94 L647.0,150.85 L649.0,150.74 L651.0,150.61 L653.0,150.47 L655.0,150.30 L657.0,150.13 L659.0,149.93 L661.0,149.72 L663.0,149.50 L665.0,149.26 L667.0,149.01 L669.0,148.76 L671.0,148.49 L673.0,148.21 L675.0,147.93 L677.0,147.64 L679.0,147.33 L681.0,147.02 L683.0,146.69 L685.0,146.35 L687.0,145.98 L689.0,145.60 L691.0,145.20 L693.0,144.77 L695.0,144.32 L697.0,143.85 L699.0,143.34 L701.0,142.81 L703.0,142.24 L705.0,141.64 L707.0,141.00 L709.0,140.33 L711.0,139.62 L713.0,138.87 L715.0,138.07 L717.0,137.23 L719.0,136.34 L721.0,135.41 L723.0,134.42 L725.0,133.39 L727.0,132.30 L729.0,131.15 L731.0,129.95 L733.0,128.71 L735.0,127.42 L737.0,126.11 L739.0,124.78 L741.0,123.43 L743.0,122.07 L745.0,120.72 L747.0,119.38 L749.0,118.05 L751.0,116.75 L753.0,115.49 L755.0,114.27 L757.0,113.09 L759.0,111.98 L761.0,110.93 L763.0,109.96 L765.0,109.07 L767.0,108.27 L769.0,107.57 L771.0,106.97 L773.0,106.49 L775.0,106.13 L777.0,105.90 L779.0,105.80 L781.0,105.82 L783.0,105.97 L785.0,106.24 L787.0,106.62 L789.0,107.12 L791.0,107.74 L793.0,108.47 L795.0,109.30 L797.0,110.25 L799.0,111.30 L801.0,112.45 L803.0,113.69 L805.0,115.02 L807.0,116.42 L809.0,117.88 L811.0,119.39 L813.0,120.94 L815.0,122.51 L817.0,124.09 L819.0,125.68 L821.0,127.25 L823.0,128.81 L825.0,130.33 L827.0,131.80 L829.0,133.22 L831.0,134.60 L833.0,135.93 L835.0,137.22 L837.0,138.46 L839.0,139.65 L841.0,140.81 L843.0,141.92 L845.0,142.99 L847.0,144.01 L849.0,145.00 L851.0,145.95 L853.0,146.86 L855.0,147.73 L857.0,148.56 L859.0,149.36 L861.0,150.12 L863.0,150.85 L865.0,151.55 L867.0,152.21 L869.0,152.84 L871.0,153.44 L873.0,154.00 L875.0,154.54 L877.0,155.05 L879.0,155.53 L881.0,155.99 L883.0,156.41 L885.0,156.81 L887.0,157.19 L889.0,157.54 L891.0,157.87 L893.0,158.18 L895.0,158.46 L897.0,158.73 L899.0,158.97 L901.0,159.19 L903.0,159.40 L905.0,159.59 L907.0,159.76 L909.0,159.91 L911.0,160.05 L913.0,160.18 L915.0,160.29 L917.0,160.39 L919.0,160.47 L921.0,160.55 L923.0,160.61 L925.0,160.67 L927.0,160.72 L929.0,160.75 L931.0,160.79 L933.0,160.81 L935.0,160.83 L937.0,160.84 L939.0,160.85 L941.0,160.86 L943.0,160.86 L945.0,160.86 L947.0,160.87 L949.0,160.87 L951.0,160.87 L953.0,160.87 L955.0,160.88 L957.0,160.89 L959.0,160.90 L961.0,160.92 L963.0,160.94 L965.0,160.97 L967.0,161.01 L969.0,161.06 L971.0,161.11 L973.0,161.17 L975.0,161.25 L977.0,161.33"/>
<rect x="101.2" y="27.25" width="877.6" height="547.6" fill="none" stroke="#181515" stroke-width="5"/>
<line class="l" x1="422.2" y1="59" x2="422.2" y2="470.6"/><path class="h" d="M414.2,469.6 L430.2,469.6 L422.2,484.6 Z"/>
<line class="l" x1="541.9" y1="114" x2="541.9" y2="485.8"/><path class="h" d="M533.9,484.8 L549.9,484.8 L541.9,499.8 Z"/>
<line class="l" x1="783" y1="106" x2="783" y2="161.5"/><path class="h" d="M775,160.5 L791,160.5 L783,175.5 Z"/>
<line class="l" x1="236" y1="498" x2="236" y2="175.5"/><path class="h" d="M228,176.5 L244,176.5 L236,163.5 Z"/>
<text x="261.4" y="131.6" font-size="35.5" text-anchor="middle" letter-spacing="1.45" word-spacing="-3.6">Wafer 5-A</text>
<text x="261.4" y="545" font-size="35.5" text-anchor="middle" letter-spacing="1.45" word-spacing="-3.6">Wafer 1-A</text>
<text x="785.4" y="212.2" font-size="35.8" text-anchor="middle" letter-spacing="1.1">3504</text>
<text x="423.4" y="517.8" font-size="35.8" text-anchor="middle" letter-spacing="1.5">3460</text>
<text x="544.6" y="529.7" font-size="35.8" text-anchor="middle" letter-spacing="1.1">3475</text>
<text x="100.6" y="660.5" font-size="49" text-anchor="middle" letter-spacing="-0.8">3425</text>
<text x="276.1" y="660.5" font-size="49" text-anchor="middle" letter-spacing="-0.8">3445</text>
<text x="451.6" y="660.5" font-size="49" text-anchor="middle" letter-spacing="-0.8">3465</text>
<text x="627.1" y="660.5" font-size="49" text-anchor="middle" letter-spacing="-0.8">3485</text>
<text x="802.6" y="660.5" font-size="49" text-anchor="middle" letter-spacing="-0.8">3505</text>
<text x="978.1" y="660.5" font-size="49" text-anchor="middle" letter-spacing="-0.8">3525</text>
<text x="348.5" y="722.3" font-size="41.5" letter-spacing="2.45" word-spacing="-6">Wavenumber (cm<tspan font-size="40" x="690.4" dy="-4.4" letter-spacing="0">-</tspan><tspan font-size="26.5" x="703.4" dy="-2.0" letter-spacing="0">1</tspan><tspan x="722.5" dy="6.4">)</tspan></text>
<text transform="translate(29.4,623.1) rotate(-90)" font-size="37" letter-spacing="2.0" word-spacing="-1.7">OH<tspan font-size="36" dy="-15.5" dx="-1" letter-spacing="0">-</tspan><tspan dy="15.5" dx="5.4">Absorption spectra (arb. Unit.)</tspan></text>
</svg>
</body></html>
